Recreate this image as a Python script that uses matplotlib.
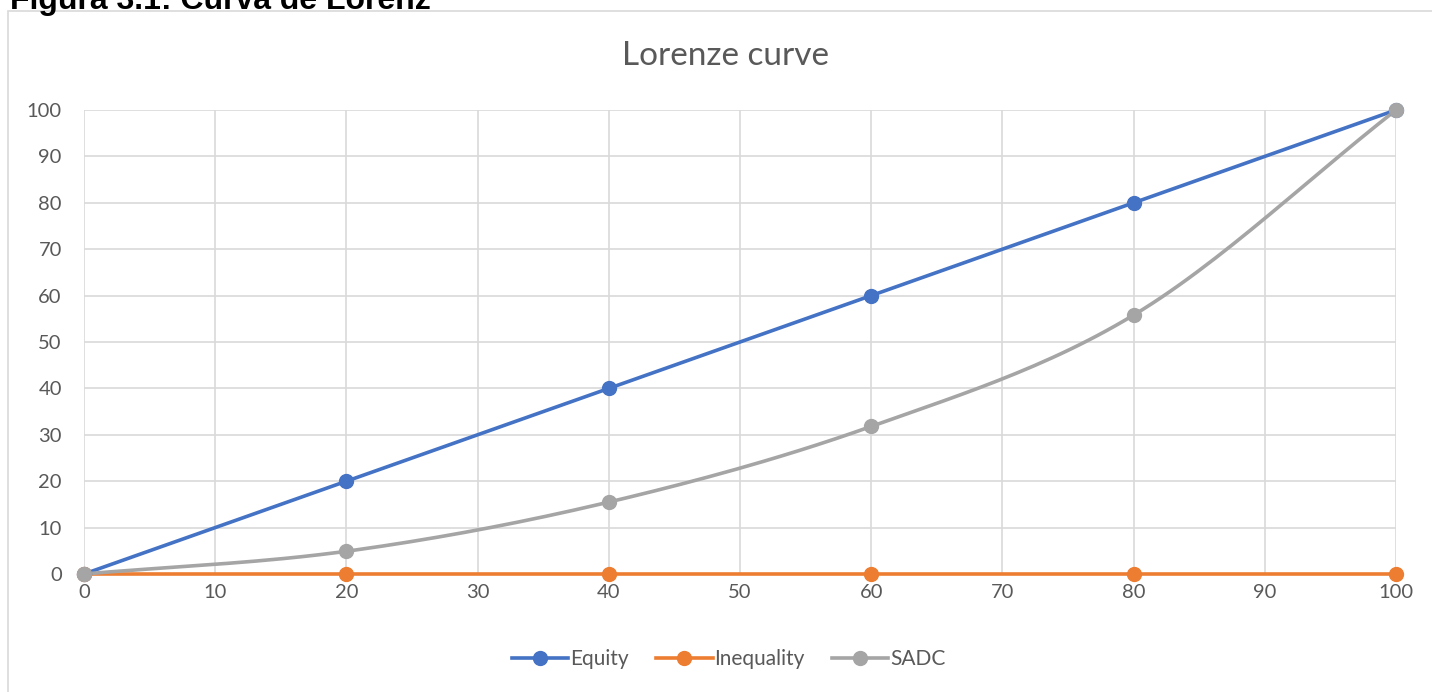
import numpy as np
import matplotlib.pyplot as plt
from matplotlib.patches import Rectangle
from matplotlib.lines import Line2D

# Dados da curva de Lorenz
x_pop = [0, 20, 40, 60, 80, 100]
equity = [0, 20, 40, 60, 80, 100]
inequality = [0, 0, 0, 0, 0, 0]
sadc = [0, 4.9, 15.5, 31.8, 55.8, 100]

cores = {'Equity': '#4472C4', 'Inequality': '#ED7D31', 'SADC': '#A5A5A5'}


# Suavizacao tipo Excel (Catmull-Rom) so para o desenho da linha
def suavizar(x, y, passos=30):
    x = np.asarray(x, float)
    y = np.asarray(y, float)
    px = np.concatenate([[2 * x[0] - x[1]], x, [2 * x[-1] - x[-2]]])
    py = np.concatenate([[2 * y[0] - y[1]], y, [2 * y[-1] - y[-2]]])
    xs, ys = [], []
    t = np.linspace(0, 1, passos)
    for i in range(1, len(px) - 2):
        for p, out in ((px, xs), (py, ys)):
            p0, p1, p2, p3 = p[i - 1], p[i], p[i + 1], p[i + 2]
            out.extend(0.5 * ((2 * p1) + (-p0 + p2) * t
                              + (2 * p0 - 5 * p1 + 4 * p2 - p3) * t ** 2
                              + (-p0 + 3 * p1 - 3 * p2 + p3) * t ** 3))
    return np.array(xs), np.array(ys)


plt.rcParams['font.family'] = ['Lato', 'DejaVu Sans']

fig = plt.figure(figsize=(14.32, 6.92), dpi=100)
W, H = 1432, 692

# moldura do grafico
fig.patches.append(Rectangle((8 / W, -0.01), (1440 - 8) / W, (H - 11) / H + 0.01,
                             transform=fig.transFigure, fill=False,
                             edgecolor='#d9d9d9', linewidth=1.2))
# cabecalho da figura (cortado no topo, como no original)
fig.text(10 / W, 1 - 1 / H, 'Figura 3.1: Curva de Lorenz', fontsize=23,
         fontweight='bold', family='Liberation Sans', va='center', ha='left')

ax = fig.add_axes([84 / W, 118 / H, (1396 - 84) / W, (574 - 110) / H])

series = [('Equity', equity), ('Inequality', inequality), ('SADC', sadc)]
for nome, ys in series:
    sx, sy = suavizar(x_pop, ys)
    ax.plot(sx, sy, color=cores[nome], linewidth=2.6, clip_on=False, zorder=3)
    ax.plot(x_pop, ys, 'o', color=cores[nome], markersize=10, clip_on=False, zorder=4)

ax.set_xlim(0, 100)
ax.set_ylim(0, 100)
ax.set_xticks(np.arange(0, 101, 10))
ax.set_yticks(np.arange(0, 101, 10))
ax.grid(True, color='#d9d9d9', linewidth=1.2)
ax.set_axisbelow(True)
for s in ax.spines.values():
    s.set_visible(False)
ax.tick_params(length=0, labelsize=14.5, labelcolor='#595959')
ax.tick_params(axis='y', pad=16)
ax.tick_params(axis='x', pad=7)

fig.text(726 / W, 1 - 56 / H, 'Lorenze curve', fontsize=24, color='#595959',
         ha='center', va='center')

handles = [Line2D([], [], color=cores[n], linewidth=2.6, marker='o', markersize=10)
           for n, _ in series]
fig.legend(handles, [n for n, _ in series], loc='center', bbox_to_anchor=(729 / W, 1 - 659 / H),
           ncol=3, frameon=False, fontsize=15, labelcolor='#595959', handlelength=2.7,
           handletextpad=0.1, columnspacing=1.3)

fig.savefig('out.png', dpi=100)
